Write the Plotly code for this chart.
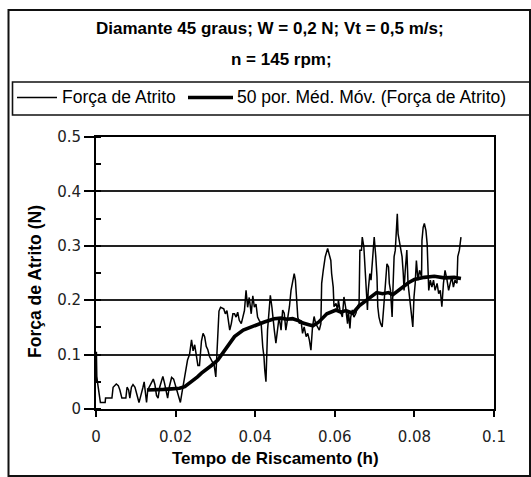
import plotly.graph_objects as go

# ---- data ----
tempo_raw = [
    0.0000, 0.0001, 0.0002, 0.0004, 0.0007, 0.0011, 0.0023, 0.0024, 0.0040, 0.0043,
    0.0051, 0.0056, 0.0060, 0.0065, 0.0075, 0.0078, 0.0082, 0.0085, 0.0089, 0.0093,
    0.0098, 0.0101, 0.0104, 0.0108, 0.0111, 0.0115, 0.0118, 0.0121, 0.0124, 0.0127,
    0.0130, 0.0133, 0.0137, 0.0141, 0.0144, 0.0148, 0.0152, 0.0156, 0.0160, 0.0164,
    0.0168, 0.0172, 0.0176, 0.0180, 0.0184, 0.0190, 0.0195, 0.0199, 0.0203, 0.0207,
    0.0212, 0.0216, 0.0220,
    0.0223, 0.0230, 0.0235, 0.0240, 0.0244, 0.0248, 0.0252, 0.0256, 0.0260, 0.0265,
    0.0269, 0.0273, 0.0277, 0.0281, 0.0285, 0.0293, 0.0297, 0.0301, 0.0305, 0.0309,
    0.0313, 0.0321, 0.0325, 0.0329, 0.0336, 0.0340, 0.0344, 0.0348, 0.0352, 0.0356,
    0.0360, 0.0365, 0.0369, 0.0373, 0.0377, 0.0381, 0.0385, 0.0390, 0.0394, 0.0398,
    0.0402, 0.0406, 0.0410, 0.0415, 0.0419, 0.0422, 0.0424, 0.0427, 0.0431, 0.0435,
    0.0438, 0.0442, 0.0444, 0.0448, 0.0452, 0.0456, 0.0460,
    0.0465, 0.0469, 0.0473, 0.0477, 0.0482, 0.0486, 0.0490, 0.0494, 0.0498, 0.0501,
    0.0503, 0.0504, 0.0507, 0.0511, 0.0515, 0.0519, 0.0523, 0.0528, 0.0532, 0.0536,
    0.0540, 0.0544, 0.0548, 0.0552, 0.0557, 0.0561, 0.0565, 0.0567, 0.0571, 0.0576,
    0.0582, 0.0586, 0.0590, 0.0592, 0.0596, 0.0598, 0.0603, 0.0607, 0.0609, 0.0613,
    0.0619, 0.0623, 0.0627, 0.0632, 0.0634, 0.0638, 0.0640, 0.0644, 0.0648, 0.0653,
    0.0657, 0.0661, 0.0663, 0.0667, 0.0669, 0.0673, 0.0676, 0.0679, 0.0682, 0.0684,
    0.0688, 0.0691, 0.0695, 0.0699, 0.0703, 0.0706, 0.0708, 0.0711, 0.0715, 0.0719,
    0.0723, 0.0727, 0.0731, 0.0735, 0.0737, 0.0740, 0.0742, 0.0744, 0.0746, 0.0749,
    0.0752, 0.0757, 0.0759, 0.0763, 0.0766, 0.0769, 0.0772, 0.0774, 0.0777, 0.0781,
    0.0784, 0.0787, 0.0792, 0.0796, 0.0799, 0.0802, 0.0805, 0.0809, 0.0813, 0.0818,
    0.0819, 0.0822, 0.0825, 0.0829, 0.0832, 0.0834, 0.0836, 0.0840, 0.0844, 0.0848,
    0.0852, 0.0857, 0.0861, 0.0865, 0.0869, 0.0873, 0.0877, 0.0882, 0.0886, 0.0890,
    0.0894, 0.0898, 0.0902, 0.0907, 0.0909, 0.0913, 0.0915, 0.0917,
]
forca_raw = [
    0.050, 0.105, 0.060, 0.048, 0.030, 0.012, 0.012, 0.020, 0.020, 0.040,
    0.046, 0.043, 0.035, 0.020, 0.020, 0.040, 0.035, 0.020, 0.040, 0.045,
    0.040, 0.030, 0.020, 0.012, 0.020, 0.030, 0.040, 0.050, 0.030, 0.012,
    0.035, 0.040, 0.045, 0.050, 0.055, 0.045, 0.025, 0.020, 0.040, 0.050,
    0.060, 0.048, 0.030, 0.020, 0.040, 0.058, 0.055, 0.045, 0.035, 0.025,
    0.012, 0.030, 0.050,
    0.060, 0.090, 0.100, 0.127, 0.107, 0.118, 0.100, 0.080, 0.080, 0.125,
    0.139, 0.133, 0.115, 0.109, 0.097, 0.084, 0.080, 0.059, 0.125, 0.180,
    0.187, 0.184, 0.175, 0.181, 0.145, 0.157, 0.175, 0.175, 0.169, 0.178,
    0.163, 0.157, 0.169, 0.181, 0.218, 0.187, 0.205, 0.175, 0.208, 0.187,
    0.193, 0.169, 0.163, 0.157, 0.114, 0.096, 0.072, 0.050, 0.145, 0.187,
    0.209, 0.187, 0.169, 0.145, 0.121, 0.145, 0.169,
    0.145, 0.182, 0.176, 0.145, 0.169, 0.188, 0.218, 0.231, 0.249, 0.237,
    0.218, 0.200, 0.169, 0.157, 0.163, 0.139, 0.151, 0.133, 0.139, 0.127,
    0.108, 0.151, 0.170, 0.157, 0.151, 0.145, 0.157, 0.231, 0.255, 0.280,
    0.295, 0.286, 0.273, 0.249, 0.224, 0.188, 0.194, 0.182, 0.200, 0.182,
    0.169, 0.206, 0.188, 0.157, 0.182, 0.148, 0.169, 0.182, 0.169, 0.176,
    0.188, 0.194, 0.292, 0.292, 0.316, 0.298, 0.255, 0.200, 0.182, 0.218,
    0.249, 0.237, 0.280, 0.316, 0.280, 0.243, 0.188, 0.169, 0.157, 0.151,
    0.188, 0.231, 0.267, 0.261, 0.231, 0.218, 0.188, 0.169, 0.218, 0.280,
    0.292, 0.359, 0.322, 0.304, 0.292, 0.280, 0.249, 0.218, 0.255, 0.292,
    0.231, 0.212, 0.188, 0.151, 0.206, 0.231, 0.273, 0.237, 0.255, 0.243,
    0.310, 0.334, 0.341, 0.328, 0.304, 0.249, 0.218, 0.237, 0.224, 0.237,
    0.218, 0.231, 0.212, 0.218, 0.188, 0.231, 0.255, 0.237, 0.218, 0.231,
    0.243, 0.224, 0.237, 0.231, 0.280, 0.292, 0.310, 0.316,
]

tempo_mm = [0.0128, 0.0150, 0.0170, 0.0190, 0.0210, 0.0223, 0.0240, 0.0255, 0.0265, 0.0280,
            0.0290, 0.0306, 0.0325, 0.0348, 0.0370, 0.0390, 0.0410, 0.0423, 0.0448, 0.0465,
            0.0480, 0.0494, 0.0510, 0.0520, 0.0535, 0.0545, 0.0560, 0.0570, 0.0580, 0.0603,
            0.0615, 0.0628, 0.0645, 0.0662, 0.0680, 0.0695, 0.0705, 0.0720, 0.0735, 0.0746,
            0.0760, 0.0770, 0.0785, 0.0800, 0.0825, 0.0850, 0.0875, 0.0900, 0.0917]
forca_mm = [0.035, 0.035, 0.036, 0.037, 0.038, 0.041, 0.050, 0.059, 0.066, 0.074,
            0.080, 0.090, 0.110, 0.133, 0.145, 0.151, 0.157, 0.160, 0.166, 0.167,
            0.165, 0.166, 0.162, 0.158, 0.155, 0.153, 0.160, 0.168, 0.175, 0.182,
            0.178, 0.181, 0.176, 0.190, 0.200, 0.208, 0.214, 0.212, 0.214, 0.210,
            0.218, 0.224, 0.232, 0.238, 0.242, 0.244, 0.241, 0.242, 0.240]

nome_raw = "Força de Atrito"
nome_mm = "50 por. Méd. Móv. (Força de Atrito)"
titulo1 = "Diamante 45 graus; W = 0,2 N; Vt = 0,5 m/s;"
titulo2 = "n = 145 rpm;"
titulo_x = "Tempo de Riscamento (h)"
titulo_y = "Força de Atrito (N)"
x_ticks = [0, 0.02, 0.04, 0.06, 0.08, 0.1]
x_ticktext = ["0", "0.02", "0.04", "0.06", "0.08", "0.1"]
y_ticks = [0, 0.1, 0.2, 0.3, 0.4, 0.5]
y_ticktext = ["0", "0.1", "0.2", "0.3", "0.4", "0.5"]

# ---- layout geometry (pixels) ----
W, H = 531, 477
L, R, T, B = 96, 37, 137, 68
PW, PH = W - L - R, H - T - B


def px(x):
    return (x - L) / PW


def py(y):
    return (H - B - y) / PH


ARIAL = "Liberation Sans, Arial, sans-serif"
TICKF = "DejaVu Sans, Verdana, sans-serif"

fig = go.Figure()
fig.add_trace(go.Scatter(x=tempo_raw, y=forca_raw, mode="lines", name=nome_raw,
                         line=dict(color="#000000", width=1.5), showlegend=False))
fig.add_trace(go.Scatter(x=tempo_mm, y=forca_mm, mode="lines", name=nome_mm,
                         line=dict(color="#000000", width=3.6),
                         showlegend=False))

shapes = [
    dict(type="rect", xref="paper", yref="paper", x0=px(8.5), x1=px(530), y0=py(476), y1=py(10),
         line=dict(color="#111", width=2)),
    dict(type="rect", xref="paper", yref="paper", x0=px(12.5), x1=px(530), y0=py(115), y1=py(82),
         line=dict(color="#111", width=1.6)),
    dict(type="line", xref="paper", yref="paper", x0=px(17), x1=px(57), y0=py(97.5), y1=py(97.5),
         line=dict(color="#000", width=1.3)),
    dict(type="line", xref="paper", yref="paper", x0=px(188), x1=px(233), y0=py(97.5), y1=py(97.5),
         line=dict(color="#000", width=3.4)),
]

annotations = [
    dict(text="<b>" + titulo1 + "</b>", xref="paper", yref="paper", x=px(270), y=py(28),
         showarrow=False, xanchor="center", yanchor="middle",
         font=dict(family=ARIAL, size=17, color="#000")),
    dict(text="<b>" + titulo2 + "</b>", xref="paper", yref="paper", x=px(281), y=py(60),
         showarrow=False, xanchor="center", yanchor="middle",
         font=dict(family=ARIAL, size=17, color="#000")),
    dict(text=nome_raw, xref="paper", yref="paper", x=px(60), y=py(97.5), showarrow=False,
         xanchor="left", yanchor="middle", font=dict(family=ARIAL, size=17.5, color="#000")),
    dict(text=nome_mm, xref="paper", yref="paper", x=px(235), y=py(97.5), showarrow=False,
         xanchor="left", yanchor="middle", font=dict(family=ARIAL, size=17.5, color="#000")),
    dict(text="<b>" + titulo_x + "</b>", xref="paper", yref="paper", x=px(275), y=py(458),
         showarrow=False, xanchor="center", yanchor="middle",
         font=dict(family=ARIAL, size=17, color="#000")),
    dict(text="<b>" + titulo_y + "</b>", xref="paper", yref="paper", x=px(35), y=py(282),
         showarrow=False, xanchor="center", yanchor="middle", textangle=-90,
         font=dict(family=ARIAL, size=17.5, color="#000")),
]

fig.update_layout(
    width=W, height=H,
    margin=dict(l=L, r=R, t=T, b=B, pad=0),
    paper_bgcolor="white", plot_bgcolor="white",
    shapes=shapes, annotations=annotations,
    showlegend=False,
    xaxis=dict(range=[0, 0.1], tickvals=x_ticks, ticktext=x_ticktext,
               showgrid=False, zeroline=False,
               showline=True, linecolor="#000", linewidth=2, mirror=True,
               ticks="outside", ticklen=6, tickwidth=2, tickcolor="#000",
               ticklabelstandoff=7,
               tickfont=dict(family=TICKF, size=15, color="#222")),
    yaxis=dict(range=[0, 0.5], tickvals=y_ticks, ticktext=y_ticktext,
               showgrid=True, gridcolor="#222", gridwidth=1.5, zeroline=False,
               showline=True, linecolor="#000", linewidth=2, mirror=True,
               ticks="outside", ticklen=10, tickwidth=1.5, tickcolor="#000",
               minor=dict(dtick=0.05, ticks="inside", ticklen=5, tickwidth=1.5,
                          tickcolor="#000", showgrid=False),
               tickfont=dict(family=TICKF, size=15, color="#222")),
)

fig.write_html("out.html",
               config={"displayModeBar": False},
               post_script="document.body.style.margin='0';document.body.style.overflow='hidden';")
